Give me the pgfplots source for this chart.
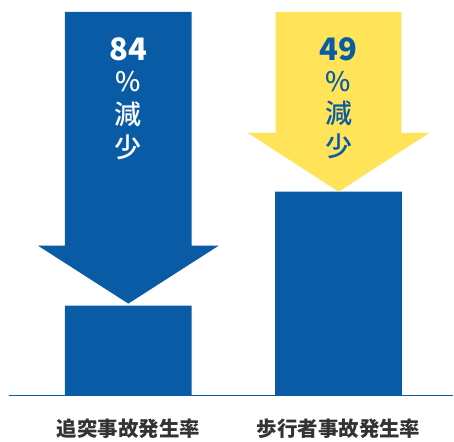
\documentclass[border=0pt]{standalone}
\usepackage{pgfplots}
\pgfplotsset{compat=1.18}
\usepackage{fontspec}
\newfontfamily\cjk{Noto Sans CJK JP}
\newfontfamily\cjkmed{Noto Sans CJK JP Medium}

\definecolor{barblue}{HTML}{0A5BA6}
\definecolor{arrowyellow}{HTML}{FFE45A}
\definecolor{labelgray}{HTML}{333333}

\begin{document}
\begin{tikzpicture}
\begin{axis}[
    width=454pt, height=437pt,
    scale only axis,
    xmin=0, xmax=454,
    ymin=-41, ymax=396,
    hide axis,
    clip=false,
]
\path (rel axis cs:0,0) rectangle (rel axis cs:1,1);

% bars (rate after)
\addplot[ybar, bar width=127, fill=barblue, draw=none]
    coordinates {(128.5,90) (339,204)};

% arrows (rate before -> reduction)
\addplot[fill=barblue, draw=none] coordinates {
    (65,384) (192,384) (192,150) (219,150) (128.5,92) (38,150) (65,150)
} -- cycle;
\addplot[fill=arrowyellow, draw=none] coordinates {
    (276,384) (402,384) (402,263) (430,263) (339,204) (248,263) (276,263)
} -- cycle;

% baseline
\addplot[barblue, line width=1.2pt] coordinates {(9,0) (454,0)};

% texts in arrows
\node[white, font=\cjk\bfseries\fontsize{31}{31}\selectfont] at (axis cs:128.5,347) {84};
\node[white, font=\cjkmed\fontsize{27}{27}\selectfont] at (axis cs:128.5,314) {\%};
\node[white, font=\cjkmed\fontsize{27}{27}\selectfont] at (axis cs:128.5,282) {減};
\node[white, font=\cjkmed\fontsize{27}{27}\selectfont] at (axis cs:128.5,249) {少};

\node[barblue, font=\cjk\bfseries\fontsize{31}{31}\selectfont] at (axis cs:339,347) {49};
\node[barblue, font=\cjkmed\fontsize{27}{27}\selectfont] at (axis cs:339,314) {\%};
\node[barblue, font=\cjkmed\fontsize{27}{27}\selectfont] at (axis cs:339,283) {減};
\node[barblue, font=\cjkmed\fontsize{27}{27}\selectfont] at (axis cs:339,250) {少};

% category labels
\node[labelgray, font=\cjk\bfseries\fontsize{20.5}{20.5}\selectfont] at (axis cs:128.5,-33) {追突事故発生率};
\node[labelgray, font=\cjk\bfseries\fontsize{20.5}{20.5}\selectfont] at (axis cs:339,-33) {歩行者事故発生率};
\end{axis}
\end{tikzpicture}
\end{document}
